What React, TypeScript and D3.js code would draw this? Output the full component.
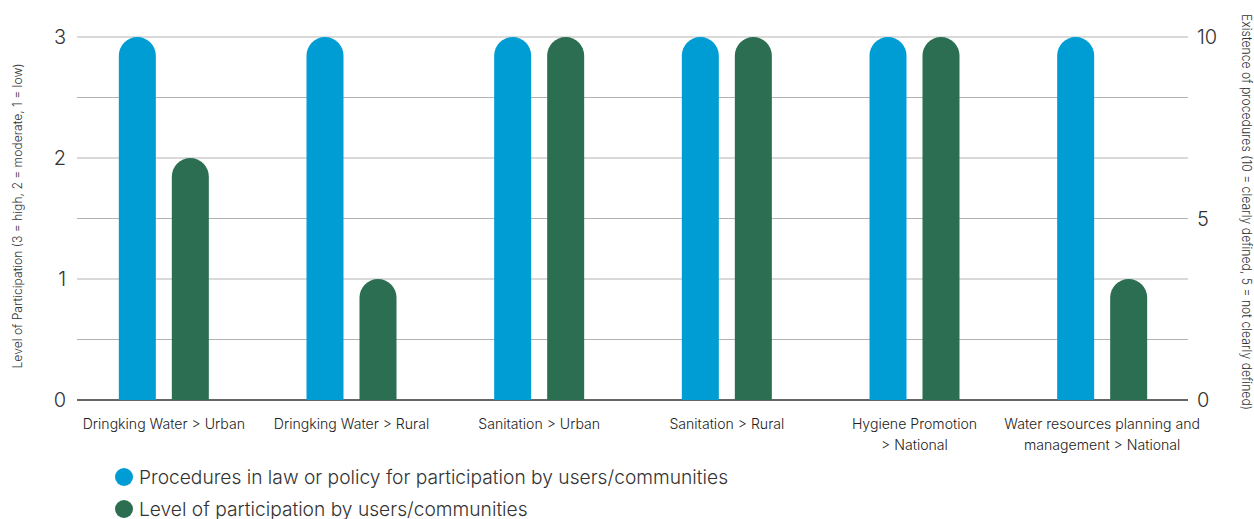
import React from "react";
import * as d3 from "d3";

const categories: string[][] = [
  ["Dringking Water > Urban"],
  ["Dringking Water > Rural"],
  ["Sanitation > Urban"],
  ["Sanitation > Rural"],
  ["Hygiene Promotion", "> National"],
  ["Water resources planning and", "management > National"],
];
const procedures = [10, 10, 10, 10, 10, 10];
const participation = [2, 1, 3, 3, 3, 1];
const leftTicks = [0, 1, 2, 3];
const rightTicks = [0, 5, 10];
const gridTicks = [0, 0.5, 1, 1.5, 2, 2.5, 3];
const legendItems = [
  "Procedures in law or policy for participation by users/communities",
  "Level of participation by users/communities",
];

const BLUE = "#009dd5";
const GREEN = "#2b6e51";
const FONT = "Inter, 'Noto Sans', sans-serif";

function pill(x: number, w: number, yTop: number, yBottom: number) {
  const r = w / 2;
  const h = yBottom - yTop;
  if (h <= r) return `M${x},${yBottom}V${yTop}H${x + w}V${yBottom}Z`;
  return `M${x},${yBottom}V${yTop + r}A${r},${r} 0 0 1 ${x + w},${yTop + r}V${yBottom}Z`;
}

export default function App() {
  const W = 1254, H = 519;
  const gridX0 = 77, gridX1 = 1188;
  const x = d3.scaleBand<number>().domain(d3.range(categories.length)).range([70, 1196]);
  const yL = d3.scaleLinear().domain([0, 3]).range([400, 37]);
  const yR = d3.scaleLinear().domain([0, 10]).range([400, 37]);
  const bw = 37, gap = 16;

  return (
    <svg width={W} height={H} style={{ position: "absolute", left: 0, top: 0, fontFamily: FONT, fontWeight: 300 }}>
      {gridTicks.map((t) => (
        <line key={t} x1={gridX0} x2={gridX1} y1={yL(t)} y2={yL(t)} stroke={t === 0 ? "#333" : "#b3b3b3"} strokeWidth={t === 0 ? 1.5 : 1} />
      ))}
      {categories.map((c, i) => {
        const cx = x(i)! + x.bandwidth() / 2;
        const bx = cx - gap / 2 - bw;
        const gx = cx + gap / 2;
        return (
          <g key={i}>
            <path d={pill(bx, bw, yR(procedures[i]), yR(0))} fill={BLUE} />
            <path d={pill(gx, bw, yL(participation[i]), yL(0))} fill={GREEN} />
            {c.map((line, j) => (
              <text key={j} x={cx} y={429 + j * 21} textAnchor="middle" fontSize={14.1} fill="#222">{line}</text>
            ))}
          </g>
        );
      })}
      {leftTicks.map((t) => (
        <text key={t} x={66} y={yL(t)} dy="0.35em" textAnchor="end" fontSize={20} fill="#333">{t}</text>
      ))}
      {rightTicks.map((t) => (
        <text key={t} x={1197} y={yR(t)} dy="0.35em" textAnchor="start" fontSize={20} fill="#333">{t}</text>
      ))}
      <text transform="translate(22,216) rotate(-90)" textAnchor="middle" fontSize={12.5} fill="#333"
        textLength={305} lengthAdjust="spacingAndGlyphs">
        Level of Participation (3 = high, 2 = moderate, 1 = low)
      </text>
      <text transform="translate(1242,212) rotate(90)" textAnchor="middle" fontSize={13} fill="#333"
        textLength={396} lengthAdjust="spacingAndGlyphs">
        Existence of procedures (10 = clearly defined, 5 = not clearly defined)
      </text>
      {legendItems.map((l, i) => (
        <g key={i}>
          <circle cx={124} cy={477 + i * 32} r={9} fill={i === 0 ? BLUE : GREEN} />
          <text x={139} y={477 + i * 32} dy="0.35em" fontSize={19.2} fill="#333">{l}</text>
        </g>
      ))}
    </svg>
  );
}
